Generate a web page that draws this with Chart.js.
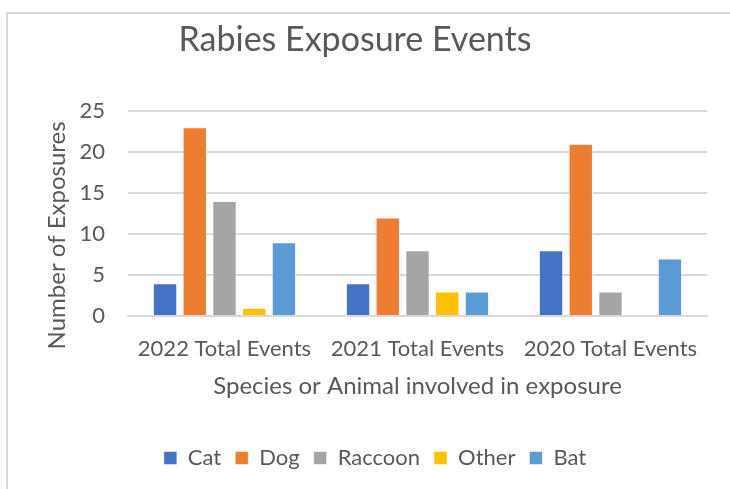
<!DOCTYPE html>
<html lang="en">
<head>
    <meta charset="UTF-8">
    <title>Rabies Exposure Events</title>
    <script src="https://cdn.jsdelivr.net/npm/chart.js@4"></script>
    <style>
        html, body { margin: 0; padding: 0; background: #fff; }
        #wrap { position: relative; width: 730px; height: 489px; overflow: hidden; }
        #frame { position: absolute; left: 6px; top: 12px; width: 800px; height: 600px;
                 border-top: 2px solid #d9d9d9; border-left: 2px solid #d9d9d9; }
        #chartBox { position: absolute; left: 0; top: 0; width: 730px; height: 489px; }
    </style>
</head>
<body>
<div id="wrap">
    <div id="frame"></div>
    <div id="chartBox"><canvas id="rabies"></canvas></div>
</div>
<script>
    const categories = ["2022 Total Events", "2021 Total Events", "2020 Total Events"];
    const cat = [4, 4, 8];
    const dog = [23, 12, 21];
    const raccoon = [14, 8, 3];
    const other = [1, 3, 0];
    const bat = [9, 3, 7];
    const yTicks = [0, 5, 10, 15, 20, 25];

    const textColor = '#595959';
    const font = "Lato, 'Noto Sans', sans-serif";

    function series(label, data, color) {
        return {
            label: label,
            data: data,
            backgroundColor: color,
            borderColor: 'rgba(255,255,255,0.5)',
            borderWidth: 1,
            categoryPercentage: 0.77,
            barPercentage: 0.82
        };
    }

    // excel puts the chart title a bit left of the plot and the y title a bit lower
    const nudgeTitles = {
        id: 'nudgeTitles',
        afterLayout(chart) {
            chart.titleBlock.left -= 20;
            chart.titleBlock.right -= 20;
            const ys = chart.scales.y;
            if (!ys._nudged) {
                const draw = ys.drawTitle;
                ys.drawTitle = function () {
                    this.ctx.save();
                    this.ctx.translate(0, 22);
                    draw.call(this);
                    this.ctx.restore();
                };
                ys._nudged = true;
            }
        }
    };

    const ctx = document.getElementById('rabies').getContext('2d');
    const chart = new Chart(ctx, {
        type: 'bar',
        data: {
            labels: categories,
            datasets: [
                series('Cat', cat, '#4472C4'),
                series('Dog', dog, '#ED7D31'),
                series('Raccoon', raccoon, '#A5A5A5'),
                series('Other', other, '#FFC000'),
                series('Bat', bat, '#5B9BD5')
            ]
        },
        plugins: [nudgeTitles],
        options: {
            responsive: true,
            maintainAspectRatio: false,
            animation: false,
            layout: { padding: { top: 20, right: 23, bottom: 10, left: 43 } },
            plugins: {
                title: {
                    display: true,
                    text: 'Rabies Exposure Events',
                    color: textColor,
                    font: { family: font, size: 34, weight: 'normal' },
                    padding: { top: 0, bottom: 50 }
                },
                legend: {
                    position: 'bottom',
                    labels: {
                        color: textColor,
                        font: { family: font, size: 22 },
                        boxWidth: 13,
                        boxHeight: 13,
                        padding: 14
                    }
                },
                tooltip: { enabled: false }
            },
            scales: {
                x: {
                    grid: { display: false },
                    border: { display: true, color: '#d9d9d9', width: 2 },
                    ticks: { color: textColor, font: { family: font, size: 22 }, padding: 12 },
                    afterFit: s => { s.height = 117; },
                    title: {
                        display: true,
                        text: 'Species or Animal involved in exposure',
                        color: textColor,
                        font: { family: font, size: 24 },
                        padding: { top: 8, bottom: 32 }
                    }
                },
                y: {
                    min: yTicks[0],
                    max: yTicks[yTicks.length - 1],
                    afterBuildTicks: axis => { axis.ticks = yTicks.map(v => ({ value: v })); },
                    afterFit: s => { s.width = 85; },
                    grid: { color: '#d9d9d9', lineWidth: 2, drawTicks: false },
                    border: { display: false },
                    ticks: { color: textColor, font: { family: font, size: 22 }, padding: 23 },
                    title: {
                        display: true,
                        text: 'Number of Exposures',
                        color: textColor,
                        font: { family: font, size: 24 },
                        padding: { top: 0, bottom: 8 }
                    }
                }
            }
        }
    });
</script>
</body>
</html>
